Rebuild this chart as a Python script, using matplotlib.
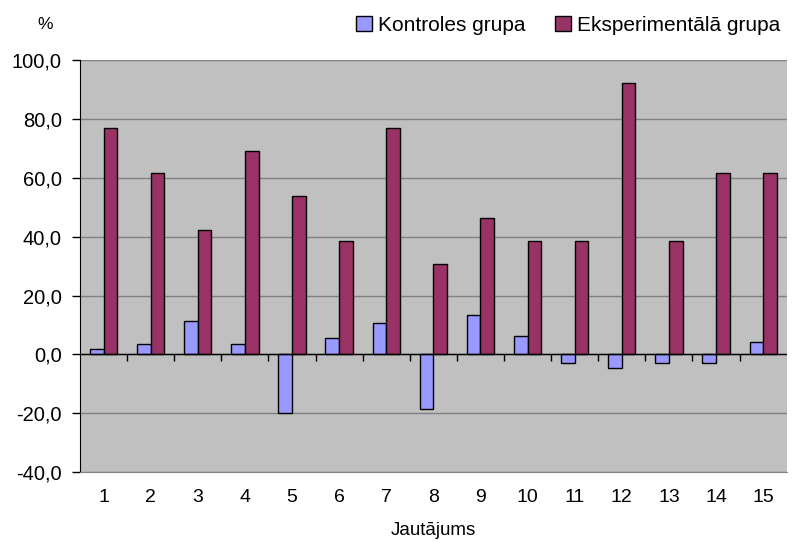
import matplotlib
matplotlib.use("Agg")
import matplotlib.pyplot as plt
import numpy as np
from matplotlib.patches import Patch

categories = [str(i) for i in range(1, 16)]
control = [2.0, 3.6, 11.5, 3.6, -20.0, 5.5, 10.7, -18.4, 13.3, 6.2, -3.0, -4.6, -3.0, -3.0, 4.1]
experimental = [76.9, 61.5, 42.3, 69.2, 53.8, 38.5, 76.9, 30.8, 46.2, 38.5, 38.5, 92.3, 38.5, 61.5, 61.5]
series_names = ["Kontroles grupa", "Eksperimentālā grupa"]
yticks = [-40, -20, 0, 20, 40, 60, 80, 100]

plt.rcParams['font.family'] = ['Liberation Sans', 'DejaVu Sans']

fig = plt.figure(figsize=(7.95, 5.42), dpi=100)
ax = fig.add_axes([0.1006, 0.129, 0.889, 0.760])
ax.set_facecolor('#C0C0C0')

x = np.arange(len(categories))
w = 0.29
ax.bar(x - w / 2, control, w, color='#9999FF', edgecolor='black', linewidth=1, zorder=3)
ax.bar(x + w / 2, experimental, w, color='#993366', edgecolor='black', linewidth=1, zorder=3)

ax.set_xlim(-0.5, len(categories) - 0.5)
ax.set_ylim(-40, 100)
ax.set_yticks(yticks)
ax.set_yticklabels([f"{v:.1f}".replace('.', ',') for v in yticks], fontsize=14.5)
ax.yaxis.grid(True, color='#808080', linewidth=1, zorder=1)
ax.set_axisbelow(True)

ax.set_xticks(x)
ax.set_xticklabels(categories, fontsize=14)
ax.tick_params(axis='x', length=0, pad=12)
ax.tick_params(axis='y', length=6, width=1, color='black', direction='out', pad=7)

for s in ['top', 'right']:
    ax.spines[s].set_visible(False)
ax.spines['bottom'].set_color('#808080')
ax.spines['left'].set_color('black')

# zero axis line and category boundary ticks
ax.axhline(0, color='black', linewidth=1, zorder=4)
bounds = np.arange(len(categories) + 1) - 0.5
ax.vlines(bounds[1:-1], -2.2, 0, color='black', linewidth=1, zorder=4)

ax.set_xlabel("Jautājums", fontsize=13.5, labelpad=12)

fig.text(0.057, 0.955, "%", fontsize=12.5, ha='center', va='center')

handles = [Patch(facecolor='#9999FF', edgecolor='black'), Patch(facecolor='#993366', edgecolor='black')]
fig.legend(handles, series_names, loc='center right', bbox_to_anchor=(0.997, 0.953), ncol=2,
           frameon=False, fontsize=15, handlelength=0.75, handleheight=0.75, handletextpad=0.3,
           columnspacing=1.4, borderpad=0.1)

fig.savefig("out.png", dpi=100)
